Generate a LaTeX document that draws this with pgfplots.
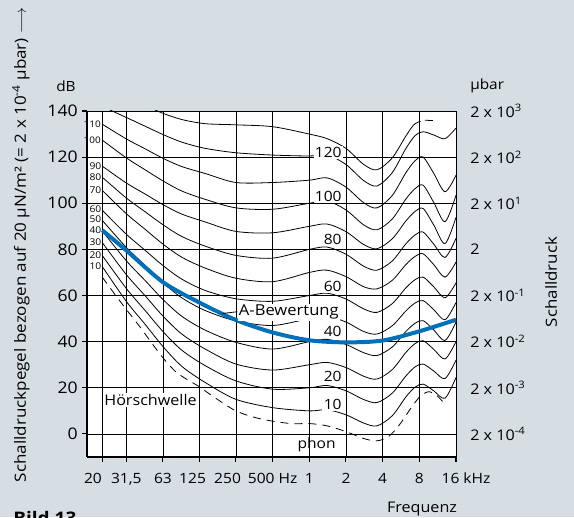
\documentclass[border=0pt]{standalone}
\usepackage{pgfplots}
\pgfplotsset{compat=1.18}
\usepackage{fontspec}
\setmainfont{Open Sans}[FakeStretch=1.1]
\definecolor{bg}{RGB}{214,222,228}
\definecolor{sblue}{RGB}{0,112,186}
\tikzset{
  curve/.style={black, line width=0.6pt, smooth},
  plab/.style={anchor=east, inner sep=1pt, fill=white, font=\fontsize{10.6}{12}\selectfont},
  slab/.style={anchor=east, inner sep=0.5pt, font=\fontsize{7}{8}\selectfont},
}
\begin{document}
\begin{tikzpicture}[font=\fontsize{11}{13}\selectfont]
\clip (-65.25pt,-45pt) rectangle (365.25pt,342.75pt);
\fill[bg] (-65.25pt,-45pt) rectangle (365.25pt,342.75pt);
\begin{axis}[
  at={(0pt,0pt)}, anchor=south west,
  scale only axis, width=276.75pt, height=259.5pt,
  xmode=log, xmin=15, xmax=16000, ymin=-10, ymax=140,
  axis background/.style={fill=white},
  axis lines*=left,
  axis line style={line width=1.2pt, black},
  xtick={20,31.5,63,125,250,500,1000,2000,4000,8000,16000},
  xticklabels={{\makebox[0pt]{\hspace*{-14pt}20}},{31,5},63,{\makebox[0pt]{\hspace*{-10pt}125}},{\makebox[0pt]{\hspace*{-12.5pt}250}},{500 Hz},1,2,4,8,{\makebox[0pt]{\hspace*{15pt}16 kHz}}},
  ytick={0,20,40,60,80,100,120,140},
  yticklabels={0,20,40,60,80,100,120,140},
  minor xtick={},
  grid=major, major grid style={black, line width=0.55pt},
  tick align=outside, major tick length=3.5pt,
  tick style={black, line width=0.8pt},
  xticklabel style={font=\fontsize{10.6}{12}\selectfont, yshift=-5pt},
  yticklabel style={font=\fontsize{12}{14}\selectfont},
]
% equal loudness contours (phon)
\addplot[curve] coordinates {(20,72.6)(31.5,57.5)(45,47.5)(63,37.9)(90,29.3)(140,22.3)(250,15)(500,11.4)(1000,10)(1400,10.5)(2000,8.3)(2800,4.7)(3600,3.5)(4800,7.9)(6200,16)(7400,20.3)(8600,21.6)(10500,18.7)(13000,15.5)(16000,24.5)};
\addplot[curve] coordinates {(20,77.4)(31.5,63.1)(45,53.5)(63,44.4)(90,36.3)(140,29.6)(250,23)(500,19.4)(1000,20)(1400,21)(2000,18.7)(2800,14.9)(3600,13.6)(4800,17.7)(6200,25.1)(7400,29.1)(8600,30.3)(10500,27.3)(13000,24)(16000,32)};
\addplot[curve] coordinates {(20,83)(31.5,69.1)(45,59.9)(63,51.1)(90,43.3)(140,36.8)(250,30.3)(500,27.7)(1000,30)(1400,31)(2000,28.8)(2800,25)(3600,23.8)(4800,27.9)(6200,35.3)(7400,39.2)(8600,40.4)(10500,36.7)(13000,32.5)(16000,40)};
\addplot[curve] coordinates {(20,88)(31.5,75.1)(45,66.5)(63,58.3)(90,51)(140,45)(250,39.7)(500,36.8)(1000,40)(1400,41)(2000,38.8)(2800,35.2)(3600,34)(4800,37.7)(6200,44.4)(7400,48)(8600,49.1)(10500,45.1)(13000,40.5)(16000,48.5)};
\addplot[curve] coordinates {(20,92.6)(31.5,80.9)(45,73)(63,65.6)(90,59)(140,53.5)(250,49)(500,47)(1000,50)(1400,51)(2000,48.5)(2800,44.4)(3600,43.3)(4800,46.9)(6200,53.3)(7400,56.8)(8600,57.8)(10500,53.9)(13000,49.5)(16000,57)};
\addplot[curve] coordinates {(20,97)(31.5,86.6)(45,79.6)(63,73)(90,67.1)(140,62.2)(250,58.6)(500,57.5)(1000,60)(1400,61)(2000,58.5)(2800,54.2)(3600,52.7)(4800,56.5)(6200,63.3)(7400,66.9)(8600,68)(10500,63.8)(13000,59)(16000,65.5)};
\addplot[curve] coordinates {(20,105.6)(31.5,95.5)(45,88.7)(63,82.3)(90,76.6)(140,71.9)(250,67.5)(500,66)(1000,70)(1400,71)(2000,68.2)(2800,63.8)(3600,62.9)(4800,66.6)(6200,73.4)(7400,77)(8600,78.1)(10500,73.4)(13000,68)(16000,74.5)};
\addplot[curve] coordinates {(20,111.3)(31.5,102.3)(45,96.3)(63,90.7)(90,85.6)(140,81.4)(250,77.4)(500,76.2)(1000,80)(1400,81)(2000,77.9)(2800,72.7)(3600,71)(4800,75)(6200,82.4)(7400,86.3)(8600,87.5)(10500,82.3)(13000,76.5)(16000,84.8)};
\addplot[curve] coordinates {(20,116.1)(31.5,108.8)(45,104)(63,99.4)(90,95.3)(140,91.9)(250,87.8)(500,87.2)(1000,90)(1400,91)(2000,87.7)(2800,82.1)(3600,80.3)(4800,84.6)(6200,92.3)(7400,96.5)(8600,97.7)(10500,90.6)(13000,82.5)(16000,93.9)};
\addplot[curve] coordinates {(20,127.4)(31.5,119.7)(45,114.5)(63,109.7)(90,105.3)(140,101.7)(250,98)(500,97.4)(1000,100)(1400,101)(2000,97.1)(2800,90.6)(3600,88.5)(4800,93.2)(6200,101.8)(7400,106.4)(8600,107.8)(10500,100.4)(13000,92)(16000,103.5)};
\addplot[curve] coordinates {(20,134.3)(31.5,127.9)(45,123.6)(63,119.5)(90,115.9)(140,112.9)(250,109)(500,109)(1000,110)(1400,111)(2000,107)(2800,100.2)(3600,98)(4800,103.4)(6200,113.2)(7400,118.5)(8600,120)(10500,113)(13000,105)(16000,112.2)};
\addplot[curve] coordinates {(20,142)(31.5,137.2)(45,133.4)(63,129.8)(90,126.5)(140,123.8)(250,121.9)(500,120.9)(1000,120.5)(1400,121)(2000,116.8)(2800,109.8)(3600,107.5)(4800,113.3)(6200,123.7)(7400,129.4)(8600,131)(10500,129.6)(13000,128)(16000,132.6)};
\addplot[curve] coordinates {(20,152)(31.5,147)(45,142.5)(63,139)(90,136.3)(140,134.5)(250,134)(500,133.2)(1000,130)(1400,128)(2000,123.8)(2800,116.8)(3600,114.5)(4800,119.7)(6200,129.1)(7200,134)(8200,135.6)};
\addplot[curve, dash pattern=on 6pt off 4pt] coordinates {(8900,136)(10800,135.8)};
% threshold of hearing
\addplot[curve, dash pattern=on 6pt off 4.5pt] coordinates {(20,68)(25,61)(31.5,54)(40,47)(50,40)(63,33)(80,27)(100,23.5)(125,20.5)(160,16.5)(250,10)(400,6.5)(700,4.5)(1000,4.5)(1400,3.5)(2000,1)(2800,-2)(3600,-3)(4500,-1)(5500,4)(7000,12)(8200,16.5)(9600,18.3)(11200,16.5)(12700,13.5)};
% A-weighting
\addplot[sblue, line width=3pt, smooth] coordinates {(20,88.3)(31.5,79.6)(63,65.8)(125,57)(250,49.4)(500,44)(1000,40.6)(2000,39.7)(4000,40.5)(8000,44.5)(16000,49.5)};
\draw[black, line width=0.6pt] (axis cs:194,52.2) -- (axis cs:257,53);
\node[anchor=west, inner sep=1pt, fill=white, font=\fontsize{11.3}{13}\selectfont] at (axis cs:257,52.7) {A-Bewertung};
\node[fill=white, inner sep=1pt] at (axis cs:49.8,14.8) {Hörschwelle};
% phon labels
\node[plab] at (axis cs:1897,122.2) {120};
\node[plab] at (axis cs:1897,103) {100};
\node[plab] at (axis cs:1897,84.3) {80};
\node[plab] at (axis cs:1897,63.9) {60};
\node[plab] at (axis cs:1897,44.3) {40};
\node[plab] at (axis cs:1897,24.8) {20};
\node[plab] at (axis cs:1897,12.6) {10};
\node[anchor=east, inner sep=1pt, font=\fontsize{10.6}{12}\selectfont] at (axis cs:1694,-4.8) {phon};
% small labels at 20 Hz
\node[slab] at (axis cs:20,116.1) {90};
\node[slab] at (axis cs:20,111.3) {80};
\node[slab] at (axis cs:20,105.6) {70};
\node[slab] at (axis cs:20,97.4) {60};
\node[slab] at (axis cs:20,93) {50};
\node[slab] at (axis cs:20,88.3) {40};
\node[slab] at (axis cs:20,83) {30};
\node[slab] at (axis cs:20,77.4) {20};
\node[slab] at (axis cs:20,72.6) {10};
\end{axis}
\node[slab, font=\fontsize{6.8}{7}\selectfont] at (11pt,249.6pt) {110};
\node[slab, font=\fontsize{6.8}{7}\selectfont] at (11pt,237.7pt) {100};
\node[rotate=90, font=\fontsize{11.6}{14}\selectfont] at (-49.5pt,159pt) {Schalldruckpegel bezogen auf 20 µN/m² (= 2 x 10\textsuperscript{-4} µbar) $\longrightarrow$};
\node[font=\fontsize{10.5}{12}\selectfont] at (-15.75pt,278.25pt) {dB};
\node[anchor=west, inner sep=0pt, font=\fontsize{10.5}{12}\selectfont] at (287.25pt,278.25pt) {µbar};
\node[anchor=west, inner sep=0pt] at (287.25pt,259.5pt) {2 x 10\textsuperscript{3}};
\node[anchor=west, inner sep=0pt] at (287.25pt,224.9pt) {2 x 10\textsuperscript{2}};
\node[anchor=west, inner sep=0pt] at (287.25pt,190.3pt) {2 x 10\textsuperscript{1}};
\node[anchor=west, inner sep=0pt] at (287.25pt,155.7pt) {2};
\node[anchor=west, inner sep=0pt] at (287.25pt,121.1pt) {2 x 10\textsuperscript{-1}};
\node[anchor=west, inner sep=0pt] at (287.25pt,86.5pt) {2 x 10\textsuperscript{-2}};
\node[anchor=west, inner sep=0pt] at (287.25pt,51.9pt) {2 x 10\textsuperscript{-3}};
\node[anchor=west, inner sep=0pt] at (287.25pt,17.3pt) {2 x 10\textsuperscript{-4}};
\node[rotate=90, font=\fontsize{11.5}{13}\selectfont] at (348pt,131.25pt) {Schalldruck};
\node[font=\fontsize{11}{13}\selectfont] at (251.25pt,-39pt) {Frequenz};
\node[anchor=north west, inner sep=0pt, font=\bfseries\fontsize{13}{15}\selectfont] at (-55.5pt,-40.5pt) {Bild 13};
\end{tikzpicture}
\end{document}
